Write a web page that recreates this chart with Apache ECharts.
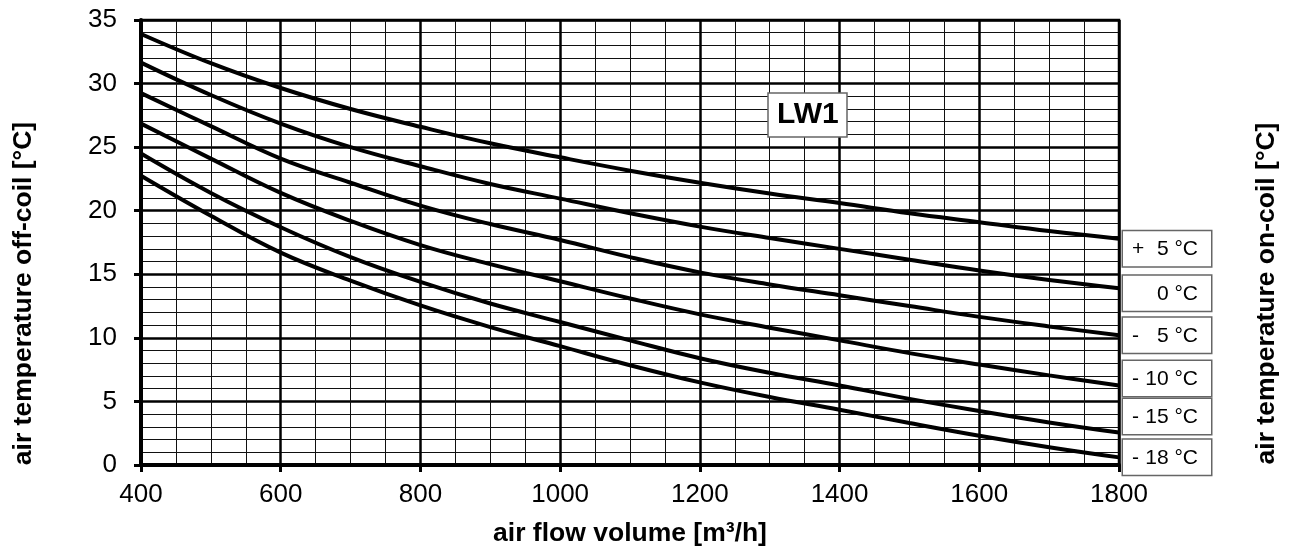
<!DOCTYPE html>
<html>
<head>
<meta charset="utf-8">
<script src="https://cdn.jsdelivr.net/npm/echarts@6/dist/echarts.min.js"></script>
<style>
  html, body { margin: 0; padding: 0; background: #fff; }
  #chart { width: 1289px; height: 552px; }
</style>
</head>
<body>
<div id="chart"></div>
<script>
// air flow volume [m³/h]
const airFlow = [400, 500, 600, 700, 800, 900, 1000, 1100, 1200, 1300, 1400, 1500, 1600, 1700, 1800];

// off-coil temperature curves for each on-coil air temperature
const curvePlus5  = [33.9, 31.6, 29.65, 28.0, 26.6, 25.3, 24.2, 23.15, 22.2, 21.35, 20.6, 19.8, 19.1, 18.4, 17.8];
const curve0      = [31.65, 29.1, 26.85, 25.0, 23.5, 22.1, 20.95, 19.8, 18.75, 17.85, 17.0, 16.15, 15.3, 14.55, 13.9];
const curveMinus5 = [29.25, 26.65, 24.1, 22.2, 20.4, 18.95, 17.7, 16.35, 15.15, 14.2, 13.35, 12.5, 11.65, 10.9, 10.2];
const curveMinus10 = [26.85, 24.1, 21.4, 19.2, 17.3, 15.8, 14.45, 13.1, 11.85, 10.8, 9.8, 8.8, 7.9, 7.05, 6.25];
const curveMinus15 = [24.5, 21.4, 18.7, 16.35, 14.4, 12.7, 11.25, 9.8, 8.4, 7.25, 6.25, 5.2, 4.25, 3.35, 2.55];
const curveMinus18 = [22.75, 19.6, 16.7, 14.5, 12.55, 10.85, 9.35, 7.85, 6.5, 5.35, 4.35, 3.3, 2.3, 1.4, 0.6];

// legend labels (sign, value)
const labelSigns  = ['+', '', '-', '-', '-', '-'];
const labelValues = ['5 °C', '0 °C', '5 °C', '10 °C', '15 °C', '18 °C'];
const curves = [curvePlus5, curve0, curveMinus5, curveMinus10, curveMinus15, curveMinus18];
const labelShift = [10, 5, 0, -7, -16, 0];

const FONT = '"Liberation Sans", Arial, sans-serif';

const chart = echarts.init(document.getElementById('chart'));

const series = curves.map((vals, i) => ({
  type: 'line',
  name: (labelSigns[i] ? labelSigns[i] + ' ' : '') + labelValues[i],
  data: airFlow.map((x, k) => [x, vals[k]]),
  smooth: 0.4,
  showSymbol: false,
  symbol: 'none',
  lineStyle: { color: '#000', width: 4 },
  silent: true,
  z: 5,
  endLabel: {
    show: true,
    distance: 4,
    offset: [0, labelShift[i]],
    formatter: () => '{a|' + labelSigns[i] + '}{b|' + labelValues[i] + '}',
    backgroundColor: '#fff',
    borderColor: '#666',
    borderWidth: 1.5,
    padding: [7, 13, 6, 9],
    rich: {
      a: { width: 12, align: 'left', fontSize: 21, fontFamily: FONT, color: '#000', lineHeight: 22 },
      b: { width: 54, align: 'right', fontSize: 21, fontFamily: FONT, color: '#000', lineHeight: 22 }
    }
  }
}));

chart.setOption({
  animation: false,
  backgroundColor: '#fff',
  grid: {
    left: 141, right: 170, top: 20, bottom: 85,
    show: true, borderColor: '#000', borderWidth: 2.5, backgroundColor: 'transparent'
  },
  title: {
    text: 'LW1',
    left: 768, top: 93,
    backgroundColor: '#fff',
    borderColor: '#666',
    borderWidth: 1.5,
    padding: [7, 9, 7, 9],
    textStyle: { fontFamily: FONT, fontSize: 30, fontWeight: 'bold', color: '#000', lineHeight: 30 },
    z: 10
  },
  xAxis: {
    type: 'value',
    min: 400, max: 1800, interval: 200,
    name: 'air flow volume [m³/h]',
    nameLocation: 'middle',
    nameGap: 55,
    nameTextStyle: { fontFamily: FONT, fontSize: 26.5, fontWeight: 'bold', color: '#000' },
    axisLine: { show: true, onZero: false, lineStyle: { color: '#000', width: 4 } },
    axisTick: { show: true, length: 7, lineStyle: { color: '#000', width: 3 } },
    axisLabel: { fontFamily: FONT, fontSize: 26, color: '#000', margin: 17, formatter: v => String(v) },
    splitLine: { show: true, lineStyle: { color: '#000', width: 2.5 } },
    minorTick: { show: false, splitNumber: 4 },
    minorSplitLine: { show: true, lineStyle: { color: '#111', width: 1 } }
  },
  yAxis: [{
    type: 'value',
    min: 0, max: 35, interval: 5,
    name: 'air temperature off-coil [°C]',
    nameLocation: 'middle',
    nameRotate: 90,
    nameGap: 104,
    nameTextStyle: { fontFamily: FONT, fontSize: 26.5, fontWeight: 'bold', color: '#000', padding: [0, 102, 0, 0] },
    axisLine: { show: true, onZero: false, lineStyle: { color: '#000', width: 4 } },
    axisTick: { show: true, length: 7, lineStyle: { color: '#000', width: 3 } },
    axisLabel: { fontFamily: FONT, fontSize: 26, color: '#000', margin: 24 },
    splitLine: { show: true, lineStyle: { color: '#000', width: 2.5 } },
    minorTick: { show: false, splitNumber: 5 },
    minorSplitLine: { show: true, lineStyle: { color: '#111', width: 1 } }
  }, {
    type: 'value',
    position: 'right',
    min: 0, max: 35, interval: 5,
    name: 'air temperature on-coil [°C]',
    nameLocation: 'middle',
    nameRotate: 90,
    nameGap: 134,
    nameTextStyle: { fontFamily: FONT, fontSize: 26.5, fontWeight: 'bold', color: '#000', padding: [0, 102, 0, 0] },
    axisLine: { show: false },
    axisTick: { show: false },
    axisLabel: { show: false },
    splitLine: { show: false }
  }],
  series: series
});
</script>
</body>
</html>
